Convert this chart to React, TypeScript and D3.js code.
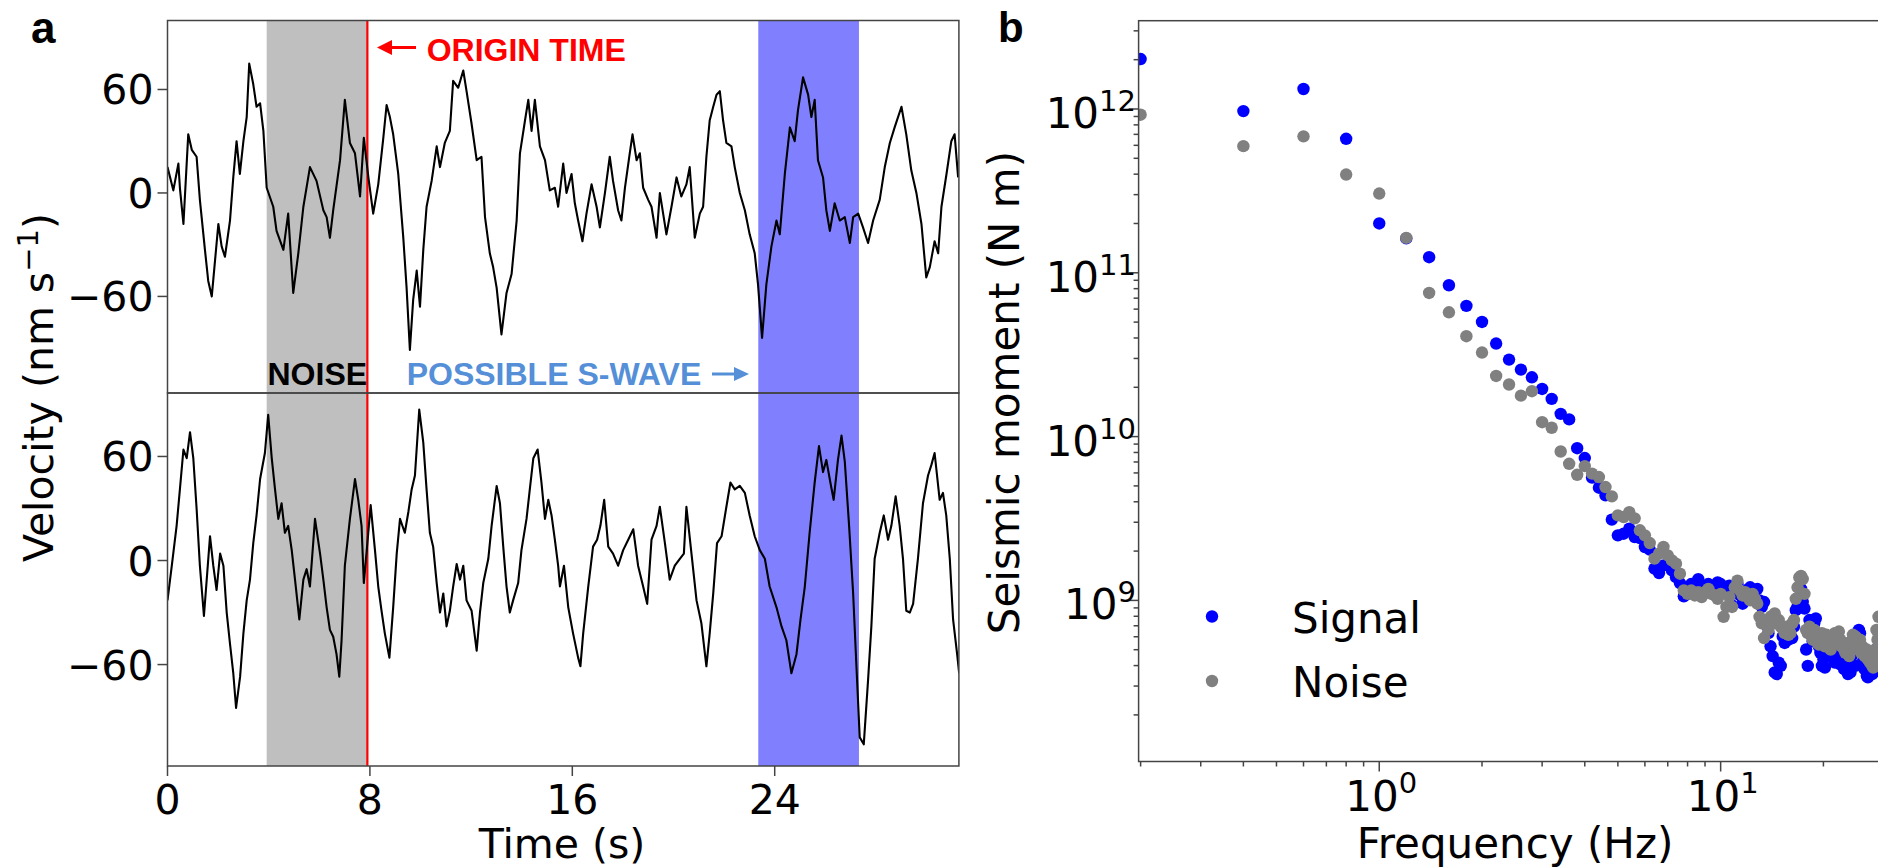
import React from 'react'
import * as d3 from 'd3'

const W = 1878
const H = 867

// ---- panel a : velocity traces ----
const timeTicks = [0, 8, 16, 24]
const velTicks = [60, 0, -60]
const noiseWindow = [3.92, 7.9]
const swaveWindow = [23.35, 27.33]
const originTime = 7.9

// [time (s), velocity (nm/s)]
const topTrace: [number, number][] = [
  [0, 15], [0.23, 1.5], [0.43, 17], [0.49, 3], [0.63, -18], [0.82, 34], [0.96, 25], [1.15, 21], [1.28, -4], [1.48, -33],
  [1.61, -51], [1.75, -60], [1.88, -39], [2.01, -18], [2.14, -31], [2.27, -37], [2.47, -16], [2.6, 9], [2.73, 30], [2.86, 11],
  [3.0, 30], [3.13, 44], [3.23, 75], [3.39, 63], [3.52, 50], [3.66, 52], [3.79, 36], [3.92, 3], [4.18, -8], [4.31, -22],
  [4.58, -33], [4.77, -12], [4.97, -58], [5.17, -35], [5.37, -8], [5.63, 15], [5.89, 7], [6.16, -10], [6.29, -14], [6.42, -26],
  [6.55, -10], [6.82, 19], [7.01, 54], [7.21, 29], [7.41, 23], [7.61, -2], [7.76, 32], [7.94, 9], [8.13, -12], [8.33, 5],
  [8.53, 32], [8.66, 51], [8.79, 44], [8.92, 34], [9.12, 11], [9.32, -26], [9.45, -55], [9.58, -91], [9.71, -62], [9.85, -45],
  [9.98, -66], [10.11, -33], [10.24, -8], [10.44, 7], [10.64, 27], [10.77, 15], [10.96, 29], [11.16, 36], [11.29, 65], [11.49, 61],
  [11.69, 71], [11.82, 59], [12.02, 40], [12.22, 19], [12.41, 21], [12.55, -14], [12.74, -35], [12.87, -43], [13.01, -55], [13.2, -82],
  [13.4, -58], [13.6, -47], [13.8, -16], [13.93, 23], [14.13, 42], [14.26, 54], [14.39, 36], [14.52, 54], [14.72, 27], [14.92, 19],
  [15.11, 1.5], [15.31, 3], [15.44, -8], [15.64, 17], [15.77, 0], [15.97, 11], [16.1, -6], [16.23, -16], [16.4, -28], [16.56, -12],
  [16.76, 5], [16.96, -8], [17.09, -20], [17.29, 0], [17.48, 21], [17.61, 7], [17.81, -10], [17.94, -16], [18.08, 3], [18.27, 23],
  [18.38, 34], [18.54, 19], [18.67, 23], [18.8, 3], [19.0, -4], [19.13, -8], [19.33, -26], [19.46, 0], [19.72, -24], [19.92, -8],
  [20.12, 9], [20.31, -2], [20.51, 5], [20.64, 15], [20.84, -26], [21.04, -12], [21.17, -8], [21.3, 21], [21.43, 42], [21.57, 50],
  [21.7, 57], [21.83, 59], [21.96, 42], [22.09, 29], [22.29, 27], [22.42, 15], [22.62, 0], [22.82, -10], [23.01, -24], [23.21, -35],
  [23.34, -53], [23.5, -84], [23.67, -53], [23.87, -31], [24.07, -16], [24.2, -24], [24.4, 11], [24.6, 38], [24.79, 30], [24.92, 48],
  [25.12, 67], [25.32, 57], [25.45, 44], [25.58, 54], [25.71, 19], [25.91, 9], [26.04, -10], [26.18, -22], [26.37, -6], [26.57, -16],
  [26.77, -14], [26.97, -29], [27.1, -14], [27.3, -12], [27.49, -20], [27.69, -29], [27.89, -16], [28.15, -4], [28.35, 15], [28.55, 29],
  [28.74, 38], [29.01, 50], [29.2, 34], [29.4, 13], [29.6, 0], [29.8, -18], [29.99, -49], [30.13, -43], [30.32, -28], [30.46, -35],
  [30.59, -8], [30.79, 11], [30.98, 30], [31.11, 34], [31.25, 9],
]

const bottomTrace: [number, number][] = [
  [0, -23], [0.17, -3], [0.36, 20], [0.49, 41], [0.63, 64], [0.76, 59], [0.89, 74], [1.02, 59], [1.15, 30], [1.28, -3],
  [1.44, -32], [1.55, -11], [1.68, 14], [1.81, -3], [1.94, -17], [2.08, 4], [2.21, -3], [2.34, -30], [2.47, -48], [2.6, -65],
  [2.71, -85], [2.87, -67], [3.0, -42], [3.13, -23], [3.26, -11], [3.39, 10], [3.52, 26], [3.66, 47], [3.85, 62], [3.98, 84],
  [4.12, 59], [4.25, 41], [4.38, 24], [4.51, 33], [4.64, 16], [4.77, 20], [4.91, 6], [5.04, -11], [5.21, -34], [5.37, -11],
  [5.5, -5], [5.63, -15], [5.83, 24], [6.03, 4], [6.16, -11], [6.29, -27], [6.42, -40], [6.55, -44], [6.68, -54], [6.79, -67],
  [6.88, -46], [7.01, -3], [7.21, 24], [7.41, 47], [7.54, 35], [7.67, 20], [7.76, -13], [7.9, 10], [8.03, 32], [8.2, 6],
  [8.33, -15], [8.46, -29], [8.59, -42], [8.77, -56], [8.92, -27], [9.06, 4], [9.19, 24], [9.38, 16], [9.52, 28], [9.65, 41],
  [9.78, 49], [9.95, 87], [10.11, 68], [10.24, 41], [10.37, 16], [10.5, 8], [10.64, -13], [10.77, -30], [10.9, -19], [11.03, -38],
  [11.16, -29], [11.29, -15], [11.43, -2], [11.56, -11], [11.69, -3], [11.82, -23], [12.02, -29], [12.22, -52], [12.35, -30], [12.48, -13],
  [12.68, 1], [12.81, 20], [13.01, 43], [13.14, 33], [13.27, 8], [13.4, -15], [13.53, -30], [13.66, -23], [13.86, -13], [13.99, 6],
  [14.19, 24], [14.32, 41], [14.46, 59], [14.63, 64], [14.78, 45], [14.92, 24], [15.05, 35], [15.18, 26], [15.31, 12], [15.44, -3],
  [15.51, -15], [15.67, -3], [15.84, -27], [16.03, -42], [16.23, -56], [16.32, -61], [16.43, -42], [16.63, -15], [16.82, 8], [16.98, 12],
  [17.11, 20], [17.26, 35], [17.42, 8], [17.61, 4], [17.81, -3], [18.01, 6], [18.21, 12], [18.41, 18], [18.6, -3], [18.8, -15],
  [18.96, -25], [19.13, 12], [19.33, 20], [19.46, 31], [19.66, 10], [19.85, -11], [20.05, -3], [20.25, 1], [20.41, 4], [20.51, 31],
  [20.71, 4], [20.91, -23], [21.1, -36], [21.3, -61], [21.43, -42], [21.57, -19], [21.72, 10], [21.9, 14], [22.09, 31], [22.25, 45],
  [22.42, 41], [22.62, 43], [22.82, 39], [23.01, 26], [23.21, 14], [23.41, 6], [23.61, 1], [23.8, -15], [24.07, -27], [24.27, -38],
  [24.46, -46], [24.66, -65], [24.86, -54], [25.02, -34], [25.19, -15], [25.38, 16], [25.58, 45], [25.75, 66], [25.91, 51], [26.04, 58],
  [26.2, 45], [26.33, 35], [26.5, 58], [26.64, 72], [26.77, 57], [26.94, 20], [27.1, -19], [27.23, -61], [27.36, -102], [27.52, -106],
  [27.69, -69], [27.82, -38], [27.95, 1], [28.15, 16], [28.31, 26], [28.48, 12], [28.61, 20], [28.78, 37], [28.94, 20], [29.07, 1],
  [29.2, -29], [29.34, -30], [29.47, -25], [29.66, 1], [29.86, 33], [30.06, 49], [30.19, 55], [30.32, 62], [30.52, 35], [30.65, 39],
  [30.78, 26], [30.92, 1], [31.05, -34], [31.21, -54], [31.29, -65],
]

// ---- panel b : seismic moment spectra, log10(M0 / N m), one value per 0.2 Hz bin from 0.2 Hz ----
const freqStep = 0.2
const signalLogM0 = [
  12.305, 11.987, 12.122, 11.818, 11.301, 11.21, 11.095, 10.924, 10.798, 10.7,
  10.568, 10.47, 10.409, 10.362, 10.291, 10.23, 10.139, 10.105, 9.929, 9.869,
  9.75, 9.688, 9.641, 9.493, 9.397, 9.407, 9.438, 9.387, 9.38, 9.326,
  9.31, 9.194, 9.167, 9.214, 9.214, 9.183, 9.142, 9.106, 9.025,
  9.04, 9.1, 9.06, 9.13, 9.09, 9.06, 9.1, 9.08, 9.05, 9.11,
  9.1, 9.08, 9.04, 9.09, 8.97, 9.05, 9.1, 9.03, 8.98, 9.06,
  9.02, 9.08, 9.04, 9.06, 9.07, 9.0, 8.96, 8.99, 8.85, 8.8,
  8.72, 8.66, 8.56, 8.55, 8.62, 8.6, 8.78, 8.74, 8.8, 8.76,
  8.82, 8.77, 8.84, 8.94, 8.96, 9.02, 9.07, 8.99, 8.95, 8.7,
  8.6, 8.88, 8.82, 8.75, 8.86, 8.89, 8.8, 8.72, 8.68, 8.6,
  8.64, 8.59, 8.7, 8.75, 8.66, 8.72, 8.78, 8.65, 8.62, 8.7,
  8.74, 8.68, 8.61, 8.66, 8.72, 8.58, 8.63, 8.7, 8.55, 8.62,
  8.56, 8.66, 8.74, 8.69, 8.6, 8.78, 8.72, 8.82, 8.8, 8.7,
  8.62, 8.68, 8.58, 8.64, 8.54, 8.53, 8.6, 8.66, 8.58, 8.55,
  8.62, 8.57, 8.7, 8.64, 8.6, 8.66,
]
const noiseLogM0 = [
  11.965, 11.773, 11.833, 11.6, 11.484, 11.213, 10.877, 10.759, 10.613, 10.513,
  10.37, 10.318, 10.25, 10.277, 10.088, 10.054, 9.909, 9.834, 9.767, 9.82,
  9.774, 9.753, 9.692, 9.635, 9.519, 9.509, 9.539, 9.501, 9.428, 9.397,
  9.35, 9.255, 9.285, 9.326, 9.275, 9.244, 9.224, 9.163, 9.061,
  9.04, 9.06, 9.03, 9.05, 9.02, 9.05, 9.07, 9.04, 9.03, 9.01,
  9.04, 8.9, 8.96, 9.02, 8.96, 9.08, 9.12, 9.06, 9.03, 9.05,
  9.02, 9.0, 9.04, 9.01, 8.98, 8.9, 8.86, 8.77, 8.86, 8.82,
  8.9, 8.88, 8.92, 8.86, 8.88, 8.84, 8.83, 8.8, 8.84, 8.79,
  8.8, 8.86, 8.88, 9.01, 9.08, 9.14, 9.15, 9.13, 9.04, 8.82,
  8.8, 8.84, 8.79, 8.76, 8.82, 8.78, 8.74, 8.73, 8.76, 8.8,
  8.78, 8.72, 8.79, 8.75, 8.77, 8.7, 8.76, 8.75, 8.8, 8.74,
  8.78, 8.81, 8.76, 8.72, 8.74, 8.7, 8.68, 8.7, 8.74, 8.66,
  8.72, 8.75, 8.79, 8.74, 8.78, 8.77, 8.72, 8.7, 8.76, 8.68,
  8.72, 8.7, 8.66, 8.67, 8.7, 8.64, 8.68, 8.62, 8.66, 8.6,
  8.59, 8.64, 8.7, 8.82, 8.76, 8.9,
]
const freqDecades = [0, 1]
const momentDecades = [9, 10, 11, 12]

const AXIS_FONT = 'DejaVu Sans'
const NOTE_FONT = 'Liberation Sans, Arial, sans-serif'
const SPINE = '#444'

// scales
const xA = d3.scaleLinear().domain([0, 31.28]).range([167.5, 958.9])
const yTop = d3.scaleLinear().domain([-116, 100]).range([393, 20.5])
const yBot = d3.scaleLinear().domain([-118.5, 96.6]).range([766, 393])

const bLeft = 1138.6
const xB = d3.scaleLog().domain([0.1973, 50]).range([bLeft, bLeft + Math.log10(50 / 0.1973) * 341.4])
const yB = d3.scaleLog().domain([Math.pow(10, 8.0165), Math.pow(10, 12.539)]).range([761.5, 20.7])

const fmt = (v: number) => (v < 0 ? '\u2212' + Math.abs(v) : String(v))

const TracePanel = ({ data, y, id }: { data: [number, number][]; y: d3.ScaleLinear<number, number>; id: string }) => {
  const [y0, y1] = y.range()
  const line = d3.line<[number, number]>().x(d => xA(d[0])).y(d => y(d[1]))
  return (
    <g>
      <clipPath id={id}>
        <rect x={xA(0)} y={y1} width={xA(31.28) - xA(0)} height={y0 - y1} />
      </clipPath>
      <path d={line(data) || ''} fill="none" stroke="#000" strokeWidth={2.1} strokeLinejoin="round" clipPath={`url(#${id})`} />
      {velTicks.map(v => (
        <g key={v}>
          <line x1={xA(0) - 10} x2={xA(0)} y1={y(v)} y2={y(v)} stroke={SPINE} strokeWidth={1.5} />
          <text x={xA(0) - 14} y={y(v) + 15} textAnchor="end" fontFamily={AXIS_FONT} fontSize={41} fill="#000">
            {fmt(v)}
          </text>
        </g>
      ))}
    </g>
  )
}

const PanelA = () => {
  const top = yTop.range()[1]
  const bottom = yBot.range()[0]
  const xr = xA.range()
  return (
    <g>
      <rect x={xA(noiseWindow[0])} y={top} width={xA(noiseWindow[1]) - xA(noiseWindow[0])} height={bottom - top} fill="#bfbfbf" />
      <rect x={xA(swaveWindow[0])} y={top} width={xA(swaveWindow[1]) - xA(swaveWindow[0])} height={bottom - top} fill="#8080ff" />
      <line x1={xA(originTime)} x2={xA(originTime)} y1={top} y2={bottom} stroke="#ff0000" strokeWidth={2.2} />

      <TracePanel data={topTrace} y={yTop} id="clipTop" />
      <TracePanel data={bottomTrace} y={yBot} id="clipBot" />

      {/* frames */}
      <rect x={xr[0]} y={top} width={xr[1] - xr[0]} height={393 - top} fill="none" stroke={SPINE} strokeWidth={1.5} />
      <rect x={xr[0]} y={393} width={xr[1] - xr[0]} height={bottom - 393} fill="none" stroke={SPINE} strokeWidth={1.5} />

      {timeTicks.map(t => (
        <g key={t}>
          <line x1={xA(t)} x2={xA(t)} y1={bottom} y2={bottom + 10} stroke={SPINE} strokeWidth={1.5} />
          <text x={xA(t)} y={814} textAnchor="middle" fontFamily={AXIS_FONT} fontSize={41}>{t}</text>
        </g>
      ))}
      <text x={562} y={858} textAnchor="middle" fontFamily={AXIS_FONT} fontSize={41}>Time (s)</text>
      <text transform={`translate(53,${(213 + 562) / 2}) rotate(-90)`} textAnchor="middle" fontFamily={AXIS_FONT} fontSize={41}>
        Velocity (nm s<tspan dy={-15} fontSize={29}>{'\u22121'}</tspan><tspan dy={15}>)</tspan>
      </text>

      {/* annotations */}
      <path d="M416,47.5 L388,47.5" stroke="#ff0000" strokeWidth={3} />
      <path d="M377,47.5 L392,40 L392,55 Z" fill="#ff0000" />
      <text x={426.7} y={61} fontFamily={NOTE_FONT} fontWeight="bold" fontSize={32} fill="#ff0000">ORIGIN TIME</text>

      <text x={267.5} y={385} fontFamily={NOTE_FONT} fontWeight="bold" fontSize={32} fill="#000">NOISE</text>
      <text x={406.7} y={385} fontFamily={NOTE_FONT} fontWeight="bold" fontSize={32} fill="#558fd8">POSSIBLE S-WAVE</text>
      <path d="M712,374 L738,374" stroke="#558fd8" strokeWidth={3} />
      <path d="M749,374 L734,367 L734,381 Z" fill="#558fd8" />

      <text x={31} y={43} fontFamily={NOTE_FONT} fontWeight="bold" fontSize={44}>a</text>
    </g>
  )
}

const PanelB = () => {
  const [bottom, top] = yB.range()
  const right = xB.range()[1]
  const xd = xB.domain()
  const yd = yB.domain()
  const minorX: number[] = []
  for (let d = -1; d <= 1; d++) for (let k = 2; k <= 9; k++) {
    const f = k * Math.pow(10, d)
    if (f >= xd[0] && f <= xd[1]) minorX.push(f)
  }
  const minorY: number[] = []
  for (let d = 8; d <= 12; d++) for (let k = 2; k <= 9; k++) {
    const m = k * Math.pow(10, d)
    if (m >= yd[0] && m <= yd[1]) minorY.push(m)
  }
  const freqs = signalLogM0.map((_, i) => +((i + 1) * freqStep).toFixed(1))
  return (
    <g>
      <defs>
        <clipPath id="clipB">
          <rect x={bLeft} y={top} width={right - bLeft} height={bottom - top} />
        </clipPath>
      </defs>
      <g clipPath="url(#clipB)">
        {signalLogM0.map((v, i) => (
          <circle key={'s' + i} cx={xB(freqs[i])} cy={yB(Math.pow(10, v))} r={6.2} fill="#0000ff" />
        ))}
        {noiseLogM0.map((v, i) => (
          <circle key={'n' + i} cx={xB(freqs[i])} cy={yB(Math.pow(10, v))} r={6.2} fill="#808080" />
        ))}
      </g>
      <rect x={bLeft} y={top} width={right - bLeft} height={bottom - top} fill="none" stroke={SPINE} strokeWidth={1.5} />

      {minorX.map(f => (
        <line key={f} x1={xB(f)} x2={xB(f)} y1={bottom} y2={bottom + 5} stroke={SPINE} strokeWidth={1.5} />
      ))}
      {freqDecades.map(d => (
        <g key={d}>
          <line x1={xB(Math.pow(10, d))} x2={xB(Math.pow(10, d))} y1={bottom} y2={bottom + 10} stroke={SPINE} strokeWidth={1.5} />
          <text x={xB(Math.pow(10, d)) + 2} y={811} textAnchor="middle" fontFamily={AXIS_FONT} fontSize={42}>
            10<tspan dy={-18} fontSize={29}>{d}</tspan>
          </text>
        </g>
      ))}
      {minorY.map(m => (
        <line key={m} x1={bLeft - 5} x2={bLeft} y1={yB(m)} y2={yB(m)} stroke={SPINE} strokeWidth={1.5} />
      ))}
      {momentDecades.map(d => (
        <g key={d}>
          <line x1={bLeft - 10} x2={bLeft} y1={yB(Math.pow(10, d))} y2={yB(Math.pow(10, d))} stroke={SPINE} strokeWidth={1.5} />
          <text x={1136} y={yB(Math.pow(10, d)) + 19} textAnchor="end" fontFamily={AXIS_FONT} fontSize={42}>
            10<tspan dy={-17} fontSize={29}>{d}</tspan>
          </text>
        </g>
      ))}
      <text x={1515} y={858} textAnchor="middle" fontFamily={AXIS_FONT} fontSize={42}>Frequency (Hz)</text>
      <text transform={`translate(1019,392.5) rotate(-90)`} textAnchor="middle" fontFamily={AXIS_FONT} fontSize={42}>
        Seismic moment (N m)
      </text>

      {/* legend */}
      <circle cx={1212} cy={616.5} r={6.2} fill="#0000ff" />
      <text x={1292} y={633} fontFamily={AXIS_FONT} fontSize={42}>Signal</text>
      <circle cx={1212} cy={681} r={6.2} fill="#808080" />
      <text x={1292} y={697} fontFamily={AXIS_FONT} fontSize={42}>Noise</text>

      <text x={998} y={42} fontFamily={NOTE_FONT} fontWeight="bold" fontSize={42}>b</text>
    </g>
  )
}

export default function App() {
  return (
    <svg
      width={W}
      height={H}
      viewBox={`0 0 ${W} ${H}`}
      style={{ position: 'absolute', left: 0, top: 0, background: '#fff' }}
    >
      <rect width={W} height={H} fill="#fff" />
      <PanelA />
      <PanelB />
    </svg>
  )
}
